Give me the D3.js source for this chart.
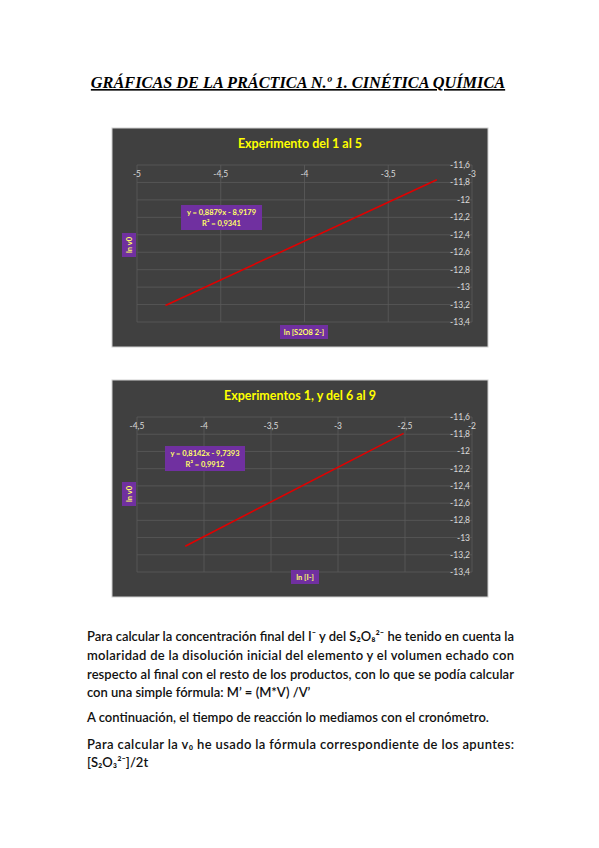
<!DOCTYPE html>
<html>
<head>
<meta charset="utf-8">
<script src="https://cdn.jsdelivr.net/npm/d3@7"></script>
<style>
  body { margin: 0; background: #fff; }
</style>
</head>
<body>
<svg id="page" width="599" height="848"></svg>
<script>
// chart 1: Experimento del 1 al 5
const xTicks1 = [-5, -4.5, -4, -3.5, -3]
const xLabels1 = ['-5', '-4,5', '-4', '-3,5', '-3']
const yTicks = [-11.6, -11.8, -12, -12.2, -12.4, -12.6, -12.8, -13, -13.2, -13.4]
const yLabels1 = ['-11,6', '-11,8', '-12', '-12,2', '-12,4', '-12,6', '-12,8', '-13', '-13,2', '-13,4']
const line1X = [-4.83, -3.21]
const line1Y = [-13.21, -11.77]

// chart 2: Experimentos 1, y del 6 al 9
const xTicks2 = [-4.5, -4, -3.5, -3, -2.5, -2]
const xLabels2 = ['-4,5', '-4', '-3,5', '-3', '-2,5', '-2']
const yLabels2 = ['-11,6', '-11,8', '-12', '-12,2', '-12,4', '-12,6', '-12,8', '-13', '-13,2', '-13,4']
const line2X = [-4.14, -2.51]
const line2Y = [-13.1, -11.79]

const svg = d3.select('#page')

// page heading
svg.append('text')
  .attr('x', 298).attr('y', 88)
  .attr('text-anchor', 'middle')
  .attr('font-family', 'Liberation Serif')
  .attr('font-style', 'italic').attr('font-weight', 'bold')
  .attr('font-size', 16.3)
  .attr('text-decoration', 'underline')
  .text('GRÁFICAS DE LA PRÁCTICA N.º 1. CINÉTICA QUÍMICA')

function drawChart(opt) {
  const g = svg.append('g')
  g.append('rect')
    .attr('x', opt.box[0]).attr('y', opt.box[1])
    .attr('width', opt.box[2]).attr('height', opt.box[3])
    .attr('fill', '#404040').attr('stroke', '#d0d0d0')

  g.append('text')
    .attr('x', opt.box[0] + opt.box[2] / 2).attr('y', opt.box[1] + 20)
    .attr('text-anchor', 'middle')
    .attr('font-family', 'Lato').attr('font-weight', 'bold').attr('font-size', 12.5)
    .attr('fill', '#ffff00')
    .text(opt.title)

  const x = d3.scaleLinear().domain(opt.xDomain).range([opt.plot[0], opt.plot[1]])
  const y = d3.scaleLinear().domain([-11.6, -13.4]).range([opt.plot[2], opt.plot[3]])

  // gridlines
  g.append('g').selectAll('line').data(yTicks).enter().append('line')
    .attr('x1', x.range()[0]).attr('x2', x.range()[1])
    .attr('y1', (d) => y(d)).attr('y2', (d) => y(d))
    .attr('stroke', '#5a5a5a').attr('stroke-width', 0.8)
  g.append('g').selectAll('line').data(opt.xTicks).enter().append('line')
    .attr('x1', (d) => x(d)).attr('x2', (d) => x(d))
    .attr('y1', y.range()[0]).attr('y2', y.range()[1])
    .attr('stroke', '#5a5a5a').attr('stroke-width', 0.8)

  // tick labels
  g.append('g').selectAll('text').data(opt.xTicks).enter().append('text')
    .attr('x', (d) => x(d)).attr('y', y.range()[0] + 12)
    .attr('text-anchor', 'middle')
    .attr('font-family', 'Lato').attr('font-size', 8.5).attr('fill', '#d9d9d9')
    .text((d, i) => opt.xLabels[i])
  g.append('g').selectAll('text').data(yTicks).enter().append('text')
    .attr('x', x.range()[1] - 2).attr('y', (d) => y(d) + 3)
    .attr('text-anchor', 'end')
    .attr('font-family', 'Lato').attr('font-size', 8.5).attr('fill', '#d9d9d9')
    .text((d, i) => opt.yLabels[i])

  // trend line
  g.append('line')
    .attr('x1', x(opt.lx[0])).attr('y1', y(opt.ly[0]))
    .attr('x2', x(opt.lx[1])).attr('y2', y(opt.ly[1]))
    .attr('stroke', '#e00000').attr('stroke-width', 1.6)

  // equation label
  const eq = opt.eqBox
  g.append('rect').attr('x', eq[0]).attr('y', eq[1]).attr('width', eq[2]).attr('height', eq[3])
    .attr('fill', '#7030a0')
  g.append('text').attr('x', eq[0] + eq[2] / 2).attr('y', eq[1] + 10)
    .attr('text-anchor', 'middle').attr('font-family', 'Lato').attr('font-weight', 'bold')
    .attr('font-size', 7.5).attr('fill', '#ffff66').text(opt.eq[0])
  g.append('text').attr('x', eq[0] + eq[2] / 2).attr('y', eq[1] + 21)
    .attr('text-anchor', 'middle').attr('font-family', 'Lato').attr('font-weight', 'bold')
    .attr('font-size', 7.5).attr('fill', '#ffff66').text(opt.eq[1])

  // axis titles
  const yt = opt.yTitle
  g.append('rect').attr('x', yt[0]).attr('y', yt[1]).attr('width', 14).attr('height', 24)
    .attr('fill', '#7030a0')
  g.append('text')
    .attr('transform', `translate(${yt[0] + 10},${yt[1] + 12}) rotate(-90)`)
    .attr('text-anchor', 'middle').attr('font-family', 'Lato').attr('font-weight', 'bold')
    .attr('font-size', 7.5).attr('fill', '#ffff66').text('ln v0')
  const xt = opt.xTitle
  g.append('rect').attr('x', xt[0]).attr('y', xt[1]).attr('width', xt[2]).attr('height', 14)
    .attr('fill', '#7030a0')
  g.append('text').attr('x', xt[0] + xt[2] / 2).attr('y', xt[1] + 10)
    .attr('text-anchor', 'middle').attr('font-family', 'Lato').attr('font-weight', 'bold')
    .attr('font-size', 7.5).attr('fill', '#ffff66').text(opt.xName)
}

drawChart({
  box: [112, 128, 376, 219], title: 'Experimento del 1 al 5',
  xDomain: [-5, -3], plot: [137, 472, 165, 322],
  xTicks: xTicks1, xLabels: xLabels1, yLabels: yLabels1,
  lx: line1X, ly: line1Y,
  eqBox: [181, 205, 81, 25], eq: ['y = 0,8879x - 8,9179', 'R² = 0,9341'],
  yTitle: [122, 233], xTitle: [280, 325, 48], xName: 'ln [S2O8 2-]'
})

drawChart({
  box: [112, 380, 376, 217], title: 'Experimentos 1, y del 6 al 9',
  xDomain: [-4.5, -2], plot: [137, 472, 417, 572],
  xTicks: xTicks2, xLabels: xLabels2, yLabels: yLabels2,
  lx: line2X, ly: line2Y,
  eqBox: [165, 446, 80, 25], eq: ['y = 0,8142x - 9,7393', 'R² = 0,9912'],
  yTitle: [122, 482], xTitle: [291, 570, 28], xName: 'ln [I-]'
})

// body text
const paraLines = [
  ['Para calcular la concentración final del I⁻ y del S₂O₈²⁻ he tenido en cuenta la', 637, true],
  ['molaridad de la disolución inicial del elemento y el volumen echado con', 656, true],
  ['respecto al final con el resto de los productos, con lo que se podía calcular', 675, true],
  ['con una simple fórmula: M’ = (M*V) /V’', 693, false],
  ['A continuación, el tiempo de reacción lo mediamos con el cronómetro.', 718, false],
  ['Para calcular la v₀ he usado la fórmula correspondiente de los apuntes:', 745, true],
  ['[S₂O₃²⁻]/2t', 763, false]
]
svg.append('g').selectAll('text').data(paraLines).enter().append('text')
  .attr('x', 87).attr('y', (d) => d[1] + 4)
  .attr('font-family', 'Lato').attr('font-weight', 600).attr('font-size', 13)
  .attr('fill', '#111')
  .attr('textLength', (d) => (d[2] ? 427 : null))
  .attr('lengthAdjust', 'spacing')
  .text((d) => d[0])
</script>
</body>
</html>
